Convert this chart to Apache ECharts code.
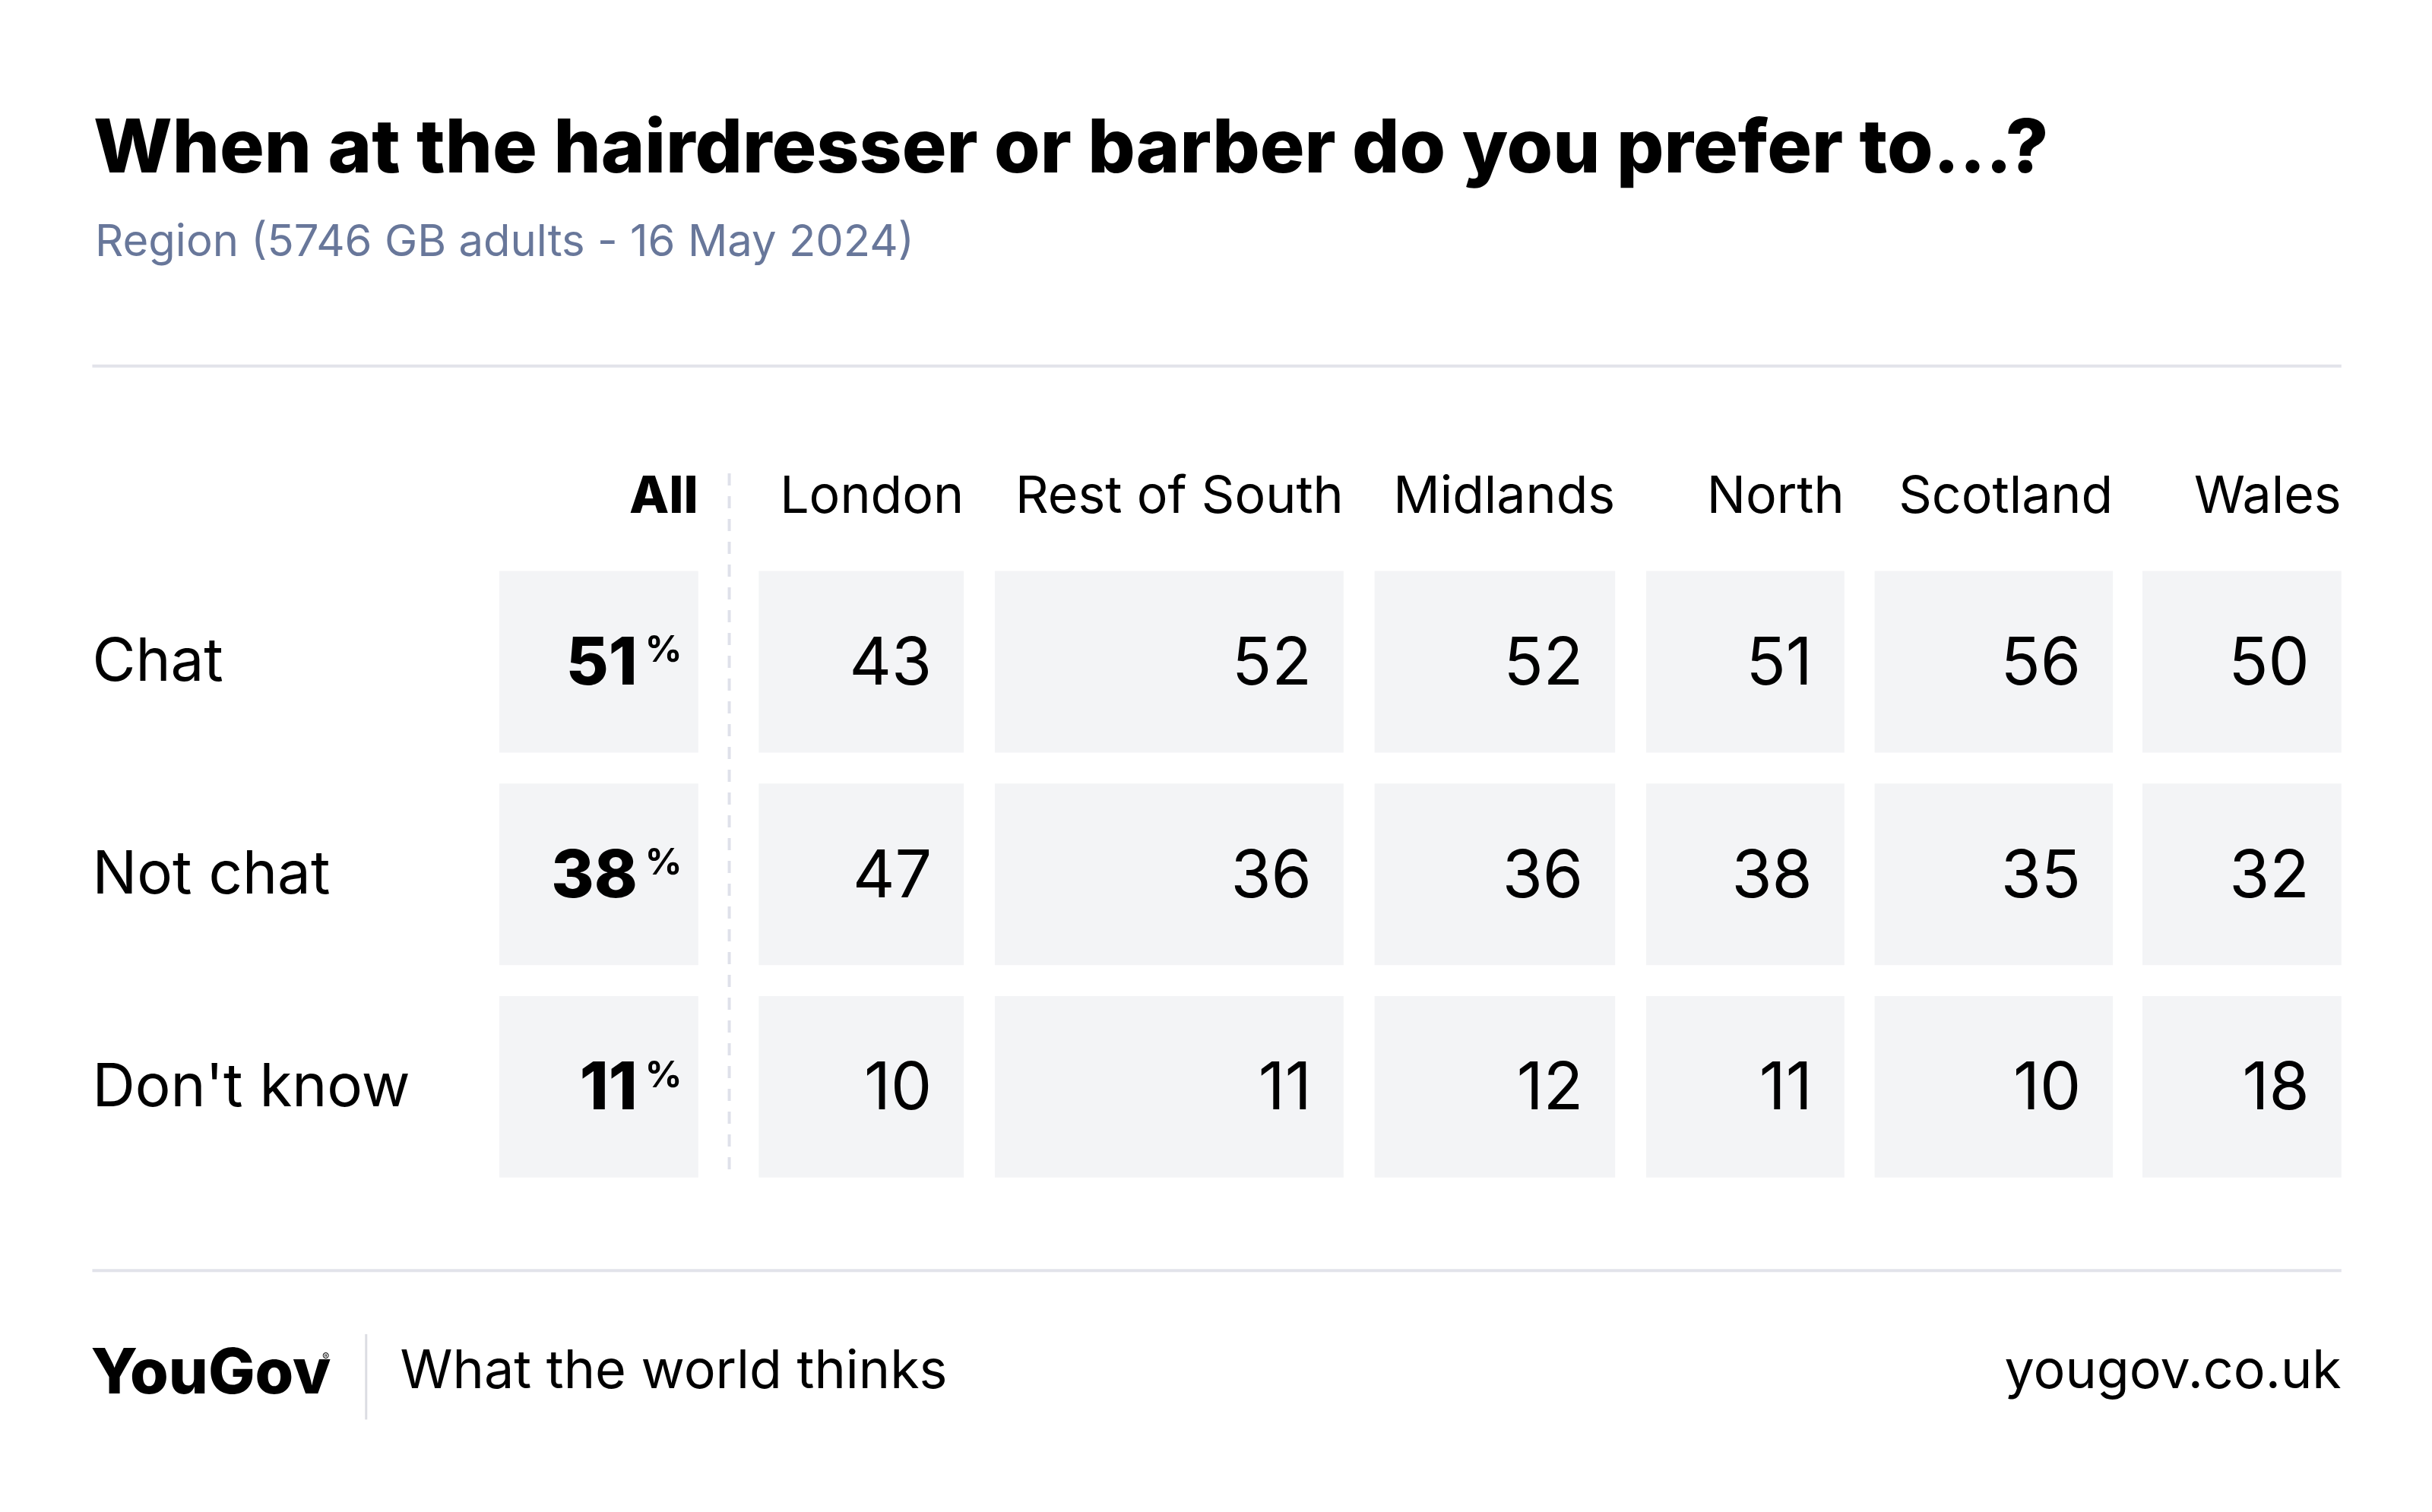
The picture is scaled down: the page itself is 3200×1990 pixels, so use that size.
<!DOCTYPE html>
<html>
<head>
<meta charset="utf-8">
<script src="https://cdn.jsdelivr.net/npm/echarts@6/dist/echarts.min.js"></script>
<style>
  html, body { margin: 0; padding: 0; background: #fff; }
  #main { width: 3200px; height: 1990px; }
</style>
</head>
<body>
<div id="main"></div>
<script>
// data
var regions = ['All', 'London', 'Rest of South', 'Midlands', 'North', 'Scotland', 'Wales'];
var answers = ['Chat', 'Not chat', "Don't know"];
var chat = [51, 43, 52, 52, 51, 56, 50];
var notChat = [38, 47, 36, 36, 38, 35, 32];
var dontKnow = [11, 10, 11, 12, 11, 10, 18];
var values = [chat, notChat, dontKnow];

// layout
var S = 0.9954;
function s(v) { return v * S; }
var colLeft = [660, 1003, 1315, 1817, 2176, 2478, 2832].map(s);
var colRight = [923, 1274, 1776, 2135, 2438, 2793, 3095].map(s);
var rowTop = [755, 1036, 1317].map(s);
var rowH = s(240);
var font = 'Inter, "Noto Sans", sans-serif';

var cells = [];
values.forEach(function (row, r) {
  row.forEach(function (v, c) { cells.push([c, r, v]); });
});

var myChart = echarts.init(document.getElementById('main'));
myChart.setOption({
  backgroundColor: '#fff',
  animation: false,
  title: [{
    text: 'When at the hairdresser or barber do you prefer to...?',
    left: 118, top: 144,
    textStyle: { fontFamily: font, fontSize: 98, fontWeight: 800, color: '#000' }
  }, {
    text: 'Region (5746 GB adults - 16 May 2024)',
    left: 120, top: 286,
    textStyle: { fontFamily: font, fontSize: 58, fontWeight: 400, color: '#68779a' }
  }],
  xAxis: { show: false, min: 0, max: 1 },
  yAxis: { show: false, min: 0, max: 1 },
  grid: { left: 0, right: 0, top: 0, bottom: 0 },
  series: [{
    type: 'custom',
    data: cells,
    renderItem: function (params, api) {
      var c = api.value(0), r = api.value(1), v = api.value(2);
      var x0 = colLeft[c], x1 = colRight[c], y0 = rowTop[r];
      var kids = [{
        type: 'rect',
        shape: { x: x0, y: y0, width: x1 - x0, height: rowH },
        style: { fill: '#f3f4f6' }
      }];
      if (c === 0) {
        kids.push({
          type: 'text',
          style: { text: String(v), x: x1 - 80, y: y0 + rowH / 2 + 4, align: 'right', verticalAlign: 'middle',
            font: '800 86px ' + font, fill: '#000' }
        });
        kids.push({
          type: 'text',
          style: { text: '%', x: x1 - 70, y: y0 + rowH / 2 - 14, align: 'left', verticalAlign: 'middle',
            font: '700 48px ' + font, fill: '#000' }
        });
      } else {
        kids.push({
          type: 'text',
          style: { text: String(v), x: x1 - 42, y: y0 + rowH / 2 + 4, align: 'right', verticalAlign: 'middle',
            font: '400 86px ' + font, fill: '#000' }
        });
      }
      return { type: 'group', children: kids };
    }
  }],
  graphic: [
    { type: 'line', shape: { x1: s(122), y1: s(484), x2: s(3095), y2: s(484) }, style: { stroke: '#e2e3ea', lineWidth: 4 } },
    { type: 'line', shape: { x1: s(122), y1: s(1680), x2: s(3095), y2: s(1680) }, style: { stroke: '#e2e3ea', lineWidth: 4 } },
    { type: 'line', shape: { x1: s(964), y1: s(626), x2: s(964), y2: s(1559) }, style: { stroke: '#dfe1ea', lineWidth: 4, lineDash: [16, 14] } }
  ].concat(regions.map(function (name, i) {
    return { type: 'text', style: { text: name, x: colRight[i], y: s(658), align: 'right', verticalAlign: 'middle',
      font: (i === 0 ? '800 ' : '400 ') + '68px ' + font, fill: '#000' } };
  })).concat(answers.map(function (name, r) {
    return { type: 'text', style: { text: name, x: s(122), y: rowTop[r] + rowH / 2 + 2, verticalAlign: 'middle',
      font: '400 78px ' + font, fill: '#000' } };
  })).concat([
    { type: 'text', style: { text: 'YouGov', x: s(120), y: s(1818), verticalAlign: 'middle', font: '800 82px ' + font, fill: '#000' } },
    { type: 'text', style: { text: '®', x: s(426), y: s(1795), verticalAlign: 'middle', font: '400 14px ' + font, fill: '#000' } },
    { type: 'line', shape: { x1: s(484), y1: s(1764), x2: s(484), y2: s(1877) }, style: { stroke: '#dcdde3', lineWidth: 3 } },
    { type: 'text', style: { text: 'What the world thinks', x: s(529), y: s(1814), verticalAlign: 'middle', font: '400 70px ' + font, fill: '#000' } },
    { type: 'text', style: { text: 'yougov.co.uk', x: s(3095), y: s(1814), align: 'right', verticalAlign: 'middle', font: '400 70px ' + font, fill: '#000' } }
  ])
});
</script>
</body>
</html>
